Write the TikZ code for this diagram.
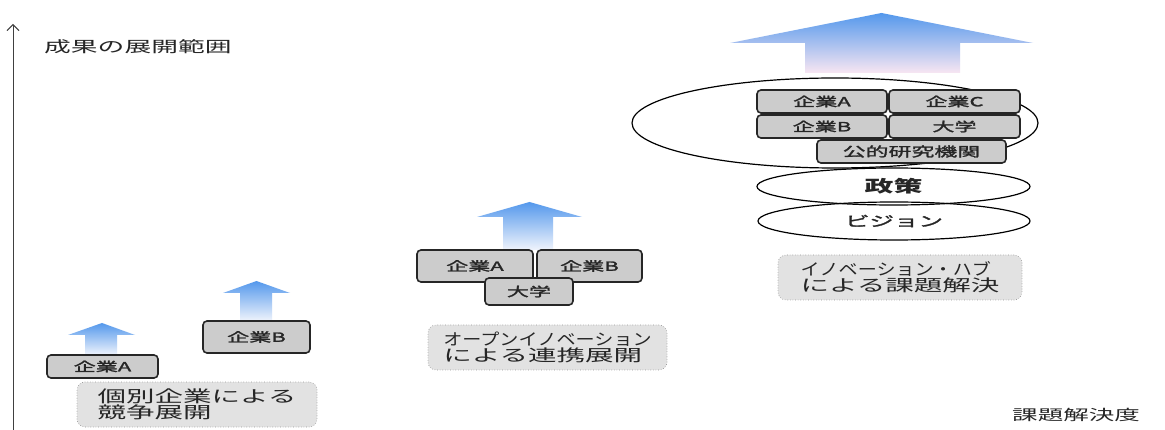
\documentclass[tikz,border=0pt]{standalone}
\usepackage{fontspec}
\newfontfamily\jp[FakeStretch=1.75]{Noto Sans CJK JP}
\newfontfamily\jpb[FakeStretch=1.75,FakeBold=2]{Noto Sans CJK JP}
\newfontfamily\jpn[FakeStretch=1.17]{Noto Sans CJK JP}
\usetikzlibrary{arrows.meta,shapes.geometric}
\definecolor{arrtop}{RGB}{84,152,236}
\definecolor{arrmid}{RGB}{160,202,245}
\definecolor{arrbot}{RGB}{240,244,252}
\definecolor{arrpink}{RGB}{248,230,242}
\definecolor{boxfill}{RGB}{204,204,204}
\definecolor{labfill}{RGB}{226,226,226}
\definecolor{labline}{RGB}{150,150,150}
\tikzset{
  arrowshade/.style={top color=arrtop, middle color=arrmid, bottom color=arrbot},
  bigshade/.style={top color=arrtop, middle color=arrmid, bottom color=arrpink},
  orgbox/.style={draw=black!85, line width=1.6pt, fill=boxfill, rounded corners=4pt,
    inner sep=0pt, font=\jpb\fontsize{12.6}{14}\selectfont, text=black!85},
  labbox/.style={draw=labline, dotted, line width=0.6pt, fill=labfill, rounded corners=8pt,
    inner sep=0pt, align=left, minimum height=45pt,
    font=\jp\fontsize{16.3}{16}\selectfont, text=black!85},
  ringnode/.style={ellipse, draw=black, line width=1.2pt, inner sep=0pt},
  axislabel/.style={anchor=west, inner sep=0pt, text=black!85},
}
\begin{document}
\begin{tikzpicture}[x=1pt,y=-1pt]
\useasboundingbox (0,0) rectangle (1165,430);
\fill[white] (0,0) rectangle (1165,430);

% axis
\coordinate (ax0) at (13,430);
\coordinate (ax1) at (13,24);
\draw[black!75, line width=0.9pt, -{Straight Barb[length=6pt,width=12pt]}] (ax0) -- (ax1);
\node[axislabel, font=\jp\fontsize{15.3}{16}\selectfont] (ylab) at (44,47) {成果の展開範囲};
\node[axislabel, font=\jp\fontsize{14.6}{16}\selectfont] (xlab) at (1012,415) {課題解決度};

% ---------- left group ----------
\shade[arrowshade] (85,355) -- (85,335) -- (68,335) -- (102,323) -- (135,335) -- (117,335) -- (117,355) -- cycle;
\shade[arrowshade] (240,321) -- (240,293) -- (223,293) -- (256.5,281) -- (290,293) -- (272,293) -- (272,321) -- cycle;
\node[orgbox, minimum width=111pt, minimum height=23pt] (la) at (102.5,366.5) {企業A};
\node[orgbox, minimum width=107pt, minimum height=32pt] (lb) at (256.5,337) {企業B};
\node[labbox, minimum width=240pt] (lab1) at (197,404.5) {個別企業による\\競争展開};

% ---------- middle group ----------
\shade[arrowshade] (503,250) -- (503,217) -- (477,217) -- (529.5,202) -- (582,217) -- (553,217) -- (553,250) -- cycle;
\node[orgbox, minimum width=116pt, minimum height=32pt] (ma) at (475,266) {企業A};
\node[orgbox, minimum width=105pt, minimum height=32pt] (mb) at (589.5,266) {企業B};
\node[orgbox, minimum width=88pt, minimum height=27pt] (mu) at (529,291.5) {大学};
\node[labbox, minimum width=239pt] (lab2) at (547.5,347.5) {{\jpn オープンイノベーション}\\による連携展開};

% ---------- right group ----------
\shade[bigshade] (805,73) -- (805,43) -- (730,43) -- (881.5,13) -- (1033,43) -- (960,43) -- (960,73) -- cycle;
\node[ringnode, minimum width=406pt, minimum height=90pt] (hub) at (835,123) {};
\node[orgbox, minimum width=130pt, minimum height=23pt] (ra) at (822,101.5) {企業A};
\node[orgbox, minimum width=131pt, minimum height=23pt] (rc) at (954.5,101.5) {企業C};
\node[orgbox, minimum width=130pt, minimum height=23pt] (rb) at (822,126.5) {企業B};
\node[orgbox, minimum width=131pt, minimum height=23pt] (ru) at (954.5,126.5) {大学};
\node[orgbox, minimum width=189pt, minimum height=23pt, font=\jpb\fontsize{13.1}{14}\selectfont] (rp) at (911.5,151.5) {公的研究機関};
\node[ringnode, minimum width=273pt, minimum height=37pt, font=\jp\bfseries\fontsize{16.5}{18}\selectfont, text=black!85] (policy) at (893.5,186.5) {政策};
\node[ringnode, minimum width=272pt, minimum height=38pt, font=\jpb\fontsize{14}{16}\selectfont, text=black!85] (vision) at (894,221) {ビジョン};
\node[labbox, minimum width=244pt] (lab3) at (900,277.5) {{\jpn イノベーション・ハブ}\\による課題解決};
\end{tikzpicture}
\end{document}
